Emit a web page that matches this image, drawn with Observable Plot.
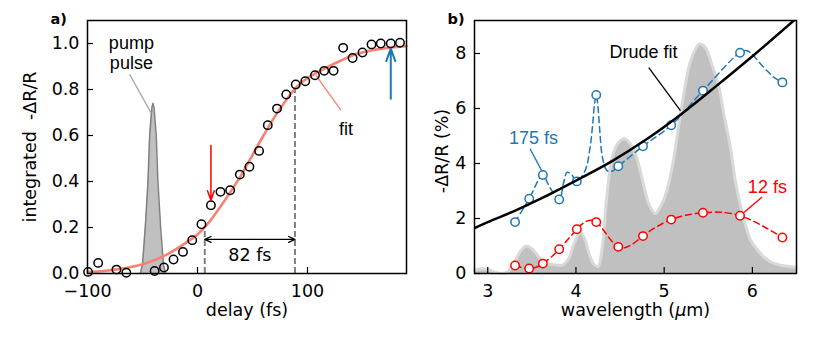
<!DOCTYPE html>
<html><head><meta charset="utf-8">
<script src="https://cdn.jsdelivr.net/npm/d3@7"></script>
<script src="https://cdn.jsdelivr.net/npm/@observablehq/plot@0.6"></script>
<style>
body{margin:0;background:#fff;}
#wrap{display:flex;width:830px;height:355px;overflow:hidden;}
</style></head><body><div id="wrap"></div>
<script>
// ---------- Panel a) data ----------
const delay = [-99.5, -90.3, -73.7, -64.7, -39.0, -30.5, -21.8, -13.2, -4.8, 3.6, 12.2, 20.9, 29.7, 38.5, 47.2, 56.0, 63.9, 72.3, 80.7, 89.3, 98.0, 106.8, 115.2, 123.7, 132.4, 141.0, 150.0, 158.2, 166.6, 175.7, 184.1];
const signal = [0.007, 0.046, 0.017, 0.003, 0.011, 0.026, 0.061, 0.094, 0.145, 0.214, 0.297, 0.355, 0.362, 0.430, 0.464, 0.533, 0.645, 0.717, 0.778, 0.822, 0.836, 0.862, 0.881, 0.881, 0.981, 0.937, 0.961, 0.996, 1.0, 1.0, 1.003];
const fitDelay = [-100, -85, -70, -55, -40, -25, -10, 0, 10, 20, 30, 40, 50, 60, 70, 80, 90, 100, 115, 130, 145, 160, 175, 190];
const fitValue = [0.006, 0.011, 0.02, 0.034, 0.056, 0.09, 0.135, 0.17, 0.22, 0.285, 0.355, 0.43, 0.515, 0.6, 0.68, 0.75, 0.81, 0.85, 0.89, 0.925, 0.955, 0.972, 0.982, 0.988];
const pulseDelay = [-52, -50, -47.5, -45, -43.5, -41.5, -40.5, -39.5, -37.5, -36, -33.5, -31, -29];
const pulseValue = [0, 0.04, 0.2, 0.4, 0.6, 0.72, 0.74, 0.72, 0.6, 0.4, 0.2, 0.04, 0];
const riseBounds = [6.6, 88.6];          // dashed markers (fs)
const riseLevels = [0.2, 0.82];
const riseLabel = "82 fs";
const arrow12 = {x: 12.2, from: 0.557, to: 0.319};
const arrow175 = {x: 175.7, from: 0.76, to: 0.978};
const leftXTicks = [-100, 0, 100];
const leftYTicks = [0, 0.2, 0.4, 0.6, 0.8, 1.0];

// ---------- Panel b) data ----------
const wavelengths = [3.31, 3.47, 3.625, 3.81, 4.01, 4.23, 4.48, 4.76, 5.08, 5.44, 5.86, 6.34];
const dr175 = [1.87, 2.72, 3.58, 2.69, 3.35, 6.49, 3.90, 4.63, 5.39, 6.65, 8.03, 6.95];
const dr12 = [0.29, 0.18, 0.36, 0.88, 1.61, 1.87, 0.97, 1.36, 1.96, 2.21, 2.10, 1.31];
// dashed guide line of the 175 fs series
const trace175Wl = [3.31, 3.47, 3.625, 3.70, 3.81, 3.86, 3.90, 3.95, 4.01, 4.105, 4.16, 4.19, 4.21, 4.23, 4.25, 4.27, 4.30, 4.35, 4.41, 4.48, 4.76, 5.08, 5.44, 5.86, 5.94, 6.13, 6.245, 6.34];
const trace175Val = [1.87, 2.72, 3.58, 3.15, 2.69, 3.3, 3.68, 3.6, 3.35, 3.75, 4.59, 5.44, 6.16, 6.49, 6.04, 5.2, 4.23, 3.75, 3.72, 3.90, 4.63, 5.39, 6.65, 8.03, 8.1, 7.49, 7.13, 6.95];
const drudeWl = [2.85, 3.0, 3.3, 3.6, 4.0, 4.4, 4.8, 5.2, 5.6, 6.0, 6.47];
const drudeVal = [1.65, 1.87, 2.27, 2.72, 3.38, 4.07, 4.88, 5.81, 6.84, 7.9, 9.2];
const specWl = [2.85, 2.92, 3.0, 3.08, 3.15, 3.22, 3.3, 3.38, 3.44, 3.5, 3.58, 3.66, 3.75, 3.84, 3.92, 3.98, 4.05, 4.1, 4.15, 4.2, 4.25, 4.3, 4.35, 4.41, 4.48, 4.55, 4.62, 4.69, 4.76, 4.83, 4.9, 4.97, 5.03, 5.11, 5.19, 5.3, 5.4, 5.47, 5.53, 5.62, 5.67, 5.75, 5.81, 5.87, 5.98, 6.06, 6.13, 6.22, 6.32, 6.5];
const specVal = [0.12, 0.17, 0.15, 0.05, 0.01, 0.05, 0.4, 0.85, 1.0, 0.9, 0.6, 0.38, 0.32, 0.3, 0.55, 1.1, 1.5, 1.25, 0.7, 0.35, 0.25, 1.0, 2.8, 4.2, 4.75, 4.9, 4.7, 4.2, 3.3, 2.5, 2.18, 2.5, 3.0, 4.2, 5.9, 7.73, 8.34, 8.2, 7.7, 6.8, 5.9, 4.6, 3.3, 2.4, 1.21, 0.85, 0.6, 0.4, 0.3, 0.22];
const rightXTicks = [3, 4, 5, 6];
const rightYTicks = [0, 2, 4, 6, 8];

// ---------- annotation tables ----------
const leftNotes = [
  {x: -60.1, y: 0.96, text: "pump\npulse", color: "black"},
  {x: 135, y: 0.63, text: "fit", color: "black"}
];
const leftPointers = [
  {x1: -61.7, y1: 0.866, x2: -42.0, y2: 0.696, color: "#a9a9a9"},
  {x1: 130.3, y1: 0.71, x2: 107.6, y2: 0.862, color: "salmon"}
];
const rightNotes = [
  {x: 4.765, y: 8.04, text: "Drude fit", color: "black"},
  {x: 3.518, y: 4.93, text: "175 fs", color: "#1f77b4"},
  {x: 6.17, y: 3.14, text: "12 fs", color: "red"}
];
const rightPointers = [
  {x1: 4.825, y1: 7.49, x2: 5.185, y2: 5.92, color: "black"},
  {x1: 3.48, y1: 4.53, x2: 3.61, y2: 3.75, color: "#1f77b4"},
  {x1: 6.11, y1: 2.78, x2: 5.89, y2: 2.18, color: "red"}
];

// ---------- build tables ----------
const pts = delay.map((d, i) => ({x: d, y: signal[i]}));
const fit = fitDelay.map((d, i) => ({x: d, y: fitValue[i]}));
const pulse = pulseDelay.map((d, i) => ({x: d, y: pulseValue[i]}));
const rise = riseBounds.map((d, i) => ({x: d, y: riseLevels[i]}));
const s175 = wavelengths.map((w, i) => ({x: w, y: dr175[i]}));
const s12 = wavelengths.map((w, i) => ({x: w, y: dr12[i]}));
const t175 = trace175Wl.map((w, i) => ({x: w, y: trace175Val[i]}));
const drude = drudeWl.map((w, i) => ({x: w, y: drudeVal[i]}));
const spec = specWl.map((w, i) => ({x: w, y: specVal[i]}));
const mid = (riseBounds[0] + riseBounds[1]) / 2;

const axisFont = "DejaVu Sans";
const noteFont = "Liberation Sans";

const left = Plot.plot({
  width: 415, height: 355,
  marginLeft: 87, marginRight: 9, marginTop: 20, marginBottom: 82,
  style: {fontFamily: axisFont, fontSize: "17.5px", background: "white", color: "black", overflow: "visible"},
  x: {domain: [-100, 190]},
  y: {domain: [0, 1.1]},
  marks: [
    Plot.axisX({ticks: leftXTicks, tickSize: -6, tickPadding: 17, tickFormat: d3.format("d"), label: null, strokeWidth: 1.2, fontSize: 17.5}),
    Plot.axisY({ticks: leftYTicks, tickSize: -6, tickPadding: 14, tickFormat: d3.format(".1f"), label: null, strokeWidth: 1.2, fontSize: 17.5}),
    Plot.areaY(pulse, {x: "x", y: "y", fill: "#c0c0c0"}),
    Plot.line(pulse, {x: "x", y: "y", stroke: "#808080", strokeWidth: 1.5}),
    Plot.link(leftPointers, {x1: "x1", y1: "y1", x2: "x2", y2: "y2", stroke: "color", strokeWidth: 1.3}),
    Plot.ruleX(rise, {x: "x", y1: 0, y2: "y", stroke: "#808080", strokeWidth: 2, strokeDasharray: "6,3"}),
    Plot.line(fit, {x: "x", y: "y", curve: "catmull-rom", stroke: "salmon", strokeWidth: 2.6}),
    Plot.dot(pts, {x: "x", y: "y", r: 4.2, stroke: "black", strokeWidth: 1.5, fill: "none"}),
    Plot.arrow([0], {x1: mid, x2: riseBounds[0], y1: 0.148, y2: 0.148, stroke: "black", strokeWidth: 1.3, headLength: 8, headAngle: 50}),
    Plot.arrow([0], {x1: mid, x2: riseBounds[1], y1: 0.148, y2: 0.148, stroke: "black", strokeWidth: 1.3, headLength: 8, headAngle: 50}),
    Plot.text([riseLabel], {x: mid, y: 0.08, text: d => d, fontSize: 17.5, fontFamily: axisFont, fill: "black"}),
    Plot.arrow([0], {x1: arrow12.x, x2: arrow12.x, y1: arrow12.from, y2: arrow12.to, stroke: "red", strokeWidth: 1.5, headLength: 10, headAngle: 40}),
    Plot.arrow([0], {x1: arrow175.x, x2: arrow175.x, y1: arrow175.from, y2: arrow175.to, stroke: "#1f77b4", strokeWidth: 2, headLength: 10, headAngle: 40}),
    Plot.text(leftNotes, {x: "x", y: "y", text: "text", fill: "color", fontFamily: noteFont, fontSize: 18, lineHeight: 1.1}),
    Plot.text(["delay (fs)"], {frameAnchor: "bottom", dy: 42, text: d => d, fontSize: 17.5}),
    Plot.text(["integrated  -ΔR/R"], {frameAnchor: "left", textAnchor: "middle", dx: -57, rotate: -90, text: d => d, fontSize: 17.5}),
    Plot.text(["a)"], {frameAnchor: "top-left", dx: -37, dy: -7, textAnchor: "start", text: d => d, fontSize: 14.5, fontWeight: "bold"}),
    Plot.frame({stroke: "black", strokeWidth: 1.5})
  ]
});

const right = Plot.plot({
  width: 415, height: 355,
  marginLeft: 59, marginRight: 34, marginTop: 20, marginBottom: 82,
  style: {fontFamily: axisFont, fontSize: "17.5px", background: "white", color: "black", overflow: "visible"},
  x: {domain: [2.85, 6.5]},
  y: {domain: [0, 9.2]},
  marks: [
    Plot.areaY(spec, {x: "x", y: "y", curve: "catmull-rom", fill: "#c0c0c0"}),
    Plot.line(spec, {x: "x", y: "y", curve: "catmull-rom", stroke: "#d9d9d9", strokeWidth: 3}),
    Plot.axisX({ticks: rightXTicks, tickSize: -6, tickPadding: 17, tickFormat: d3.format("d"), label: null, strokeWidth: 1.2, fontSize: 17.5}),
    Plot.axisY({ticks: rightYTicks, tickSize: -6, tickPadding: 14, tickFormat: d3.format("d"), label: null, strokeWidth: 1.2, fontSize: 17.5}),
    Plot.line(t175, {x: "x", y: "y", curve: "catmull-rom", stroke: "#1f77b4", strokeWidth: 1.5, strokeDasharray: "6,4"}),
    Plot.line(s12, {x: "x", y: "y", curve: "natural", stroke: "red", strokeWidth: 1.5, strokeDasharray: "6,4"}),
    Plot.link(rightPointers, {x1: "x1", y1: "y1", x2: "x2", y2: "y2", stroke: "color", strokeWidth: 1.3}),
    Plot.dot(s175, {x: "x", y: "y", r: 4.2, stroke: "#1f77b4", strokeWidth: 1.5, fill: "white"}),
    Plot.dot(s12, {x: "x", y: "y", r: 4.2, stroke: "red", strokeWidth: 1.5, fill: "white"}),
    Plot.line(drude, {x: "x", y: "y", curve: "catmull-rom", stroke: "black", strokeWidth: 2.5, clip: true}),
    Plot.text(rightNotes, {x: "x", y: "y", text: "text", fill: "color", fontFamily: noteFont, fontSize: 18}),
    Plot.text(["wavelength (μm)"], {frameAnchor: "bottom", dy: 42, text: d => d, fontSize: 17.5}),
    Plot.text(["-ΔR/R (%)"], {frameAnchor: "left", textAnchor: "middle", dx: -32, dy: 4, rotate: -90, text: d => d, fontSize: 17.5}),
    Plot.text(["b)"], {frameAnchor: "top-left", dx: -27, dy: -7, textAnchor: "start", text: d => d, fontSize: 14.5, fontWeight: "bold"}),
    Plot.frame({stroke: "black", strokeWidth: 1.5})
  ]
});

// italic mu in the wavelength label
right.querySelectorAll("text").forEach(t => {
  if (t.textContent === "wavelength (μm)") {
    const host = t.querySelector("tspan") || t;
    while (host.firstChild) host.removeChild(host.firstChild);
    const ns = "http://www.w3.org/2000/svg";
    host.appendChild(document.createTextNode("wavelength ("));
    const mu = document.createElementNS(ns, "tspan");
    mu.setAttribute("font-style", "italic");
    mu.textContent = "μ";
    host.appendChild(mu);
    host.appendChild(document.createTextNode("m)"));
  }
});

document.getElementById("wrap").append(left, right);
</script></body></html>
